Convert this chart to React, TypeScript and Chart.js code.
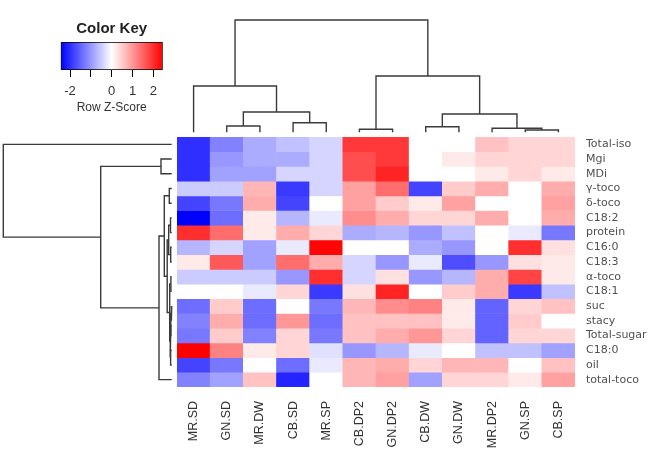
import React, { useEffect, useRef } from "react";
import { Chart, registerables } from "chart.js";
Chart.register(...registerables);

// ---------- data ----------
const columns = ["MR.SD", "GN.SD", "MR.DW", "CB.SD", "MR.SP", "CB.DP2", "GN.DP2", "CB.DW", "GN.DW", "MR.DP2", "GN.SP", "CB.SP"];
const rowLabels = ["Total-iso", "Mgi", "MDi", "γ-toco", "δ-toco", "C18:2", "protein", "C16:0", "C18:3", "α-toco", "C18:1", "suc", "stacy", "Total-sugar", "C18:0", "oil", "total-toco"];

// Row Z-scores, one array per row, in column order above
const totalIso = [-2.0, -1.2, -0.8, -0.6, -0.4, 1.9, 1.9, 0.0, 0.0, 0.6, 0.4, 0.4];
const mgi = [-2.0, -1.0, -0.8, -0.8, -0.4, 1.7, 1.9, 0.0, 0.2, 0.4, 0.4, 0.4];
const mdi = [-2.0, -0.9, -0.9, -0.4, -0.4, 1.7, 2.1, 0.0, 0.0, 0.2, 0.4, 0.2];
const gammaToco = [-0.5, -0.5, 0.7, -1.9, -0.4, 0.9, 1.4, -1.8, 0.5, 0.8, 0.0, 0.8];
const deltaToco = [-1.8, -1.3, 0.8, -1.8, 0.0, 0.9, 0.5, 0.2, 0.9, 0.0, 0.0, 0.9];
const c182 = [-2.45, -1.4, 0.2, -0.7, -0.2, 1.1, 0.8, 0.4, 0.4, 0.8, 0.0, 0.8];
const protein = [2.0, 1.4, 0.2, 0.8, 0.4, -0.8, -0.7, -1.0, -0.6, 0.0, -0.2, -1.3];
const c160 = [-0.7, -0.4, -0.9, -0.2, 2.4, 0.0, 0.0, -0.8, -1.0, 0.0, 2.0, 0.3];
const c183 = [0.2, 1.6, -0.9, 1.4, 0.8, -0.4, -1.0, -0.2, -1.7, -1.0, 0.3, 0.2];
const alphaToco = [-0.5, -0.5, -0.5, -1.0, 2.0, -0.4, 0.3, -1.0, -0.7, 0.8, 1.8, 0.2];
const c181 = [0.0, 0.0, -0.2, 0.4, -1.9, 0.3, 2.1, 0.0, 0.5, 0.8, -1.9, -0.6];
const suc = [-1.4, 0.5, -1.4, 0.0, -1.3, 0.7, 1.1, 1.2, 0.2, -1.5, 0.4, 0.6];
const stacy = [-1.2, 0.8, -1.4, 1.0, -1.4, 0.6, 0.6, 0.6, 0.2, -1.5, 0.5, 0.0];
const totalSugar = [-1.3, 0.5, -1.2, 0.4, -1.3, 0.6, 0.8, 1.0, 0.4, -1.5, 0.4, 0.4];
const c180 = [2.45, 1.2, 0.2, 0.4, -0.3, -1.0, -0.7, -0.2, 0.0, -0.6, -0.6, -0.9];
const oil = [-1.8, -1.3, 0.0, -1.4, -0.2, 0.7, 0.8, 0.4, 0.7, 0.7, 0.0, 0.6];
const totalToco = [-1.2, -0.9, 0.6, -2.1, 0.0, 0.7, 0.9, -0.9, 0.4, 0.4, 0.2, 0.9];

const zRows = [totalIso, mgi, mdi, gammaToco, deltaToco, c182, protein, c160, c183, alphaToco, c181, suc, stacy, totalSugar, c180, oil, totalToco];

// Color key
const keyMin = -2.45;
const keyMax = 2.45;
const keyTicks = [-2, -1, 0, 1, 2];
const keyTickLabels = ["-2", "", "0", "1", "2"];

// Dendrograms: [childA, childB, height]; leaves 0..n-1, merge k is n+k
const colMerges: number[][] = [
  [1, 2, 0.63],
  [3, 4, 0.96],
  [12, 13, 2.03],
  [0, 14, 4.63],
  [5, 6, 0.3],
  [7, 8, 0.56],
  [10, 11, 0.23],
  [9, 18, 0.4],
  [17, 19, 1.83],
  [16, 20, 5.63],
  [15, 21, 11.23],
];
const rowMerges: number[][] = [
  [1, 2, 1.07],
  [3, 4, 0.24],
  [5, 6, 0.12],
  [7, 8, 0.1],
  [19, 20, 0.3],
  [9, 10, 0.08],
  [11, 12, 0.05],
  [23, 13, 0.09],
  [14, 15, 0.11],
  [24, 25, 0.16],
  [22, 26, 0.2],
  [21, 27, 0.45],
  [18, 28, 0.74],
  [29, 16, 1.27],
  [17, 30, 7.1],
  [0, 31, 16.84],
];

// ---------- helpers ----------
function zColor(v: number): string {
  const t = Math.max(-1, Math.min(1, v / keyMax));
  if (t < 0) {
    const c = Math.round(255 * (1 + t));
    return `rgb(${c},${c},255)`;
  }
  const c = Math.round(255 * (1 - t));
  return `rgb(255,${c},${c})`;
}

function dendroSegments(merges: number[][], n: number) {
  const pos: number[] = [];
  const hgt: number[] = [];
  for (let i = 0; i < n; i++) {
    pos[i] = i + 0.5;
    hgt[i] = 0;
  }
  const segs: { p: number; h: number }[][] = [];
  merges.forEach(([a, b, h], k) => {
    segs.push([
      { p: pos[a], h: hgt[a] },
      { p: pos[a], h },
      { p: pos[b], h },
      { p: pos[b], h: hgt[b] },
    ]);
    pos[n + k] = (pos[a] + pos[b]) / 2;
    hgt[n + k] = h;
  });
  return segs;
}

const lineColor = "#3a3a3a";
const sans = "'Liberation Sans', Arial, sans-serif";

export default function App() {
  const heatRef = useRef<HTMLCanvasElement>(null);
  const colRef = useRef<HTMLCanvasElement>(null);
  const rowRef = useRef<HTMLCanvasElement>(null);
  const keyRef = useRef<HTMLCanvasElement>(null);

  useEffect(() => {
    const charts: Chart[] = [];

    // Heatmap
    charts.push(
      new Chart(heatRef.current!, {
        type: "bar",
        data: {
          labels: columns,
          datasets: rowLabels.map((r, i) => ({
            label: r,
            data: columns.map(() => 1),
            backgroundColor: zRows[i].map(zColor),
            borderWidth: 0,
            barPercentage: 1,
            categoryPercentage: 1,
            stack: "s",
          })),
        },
        options: {
          animation: false,
          responsive: false,
          maintainAspectRatio: false,
          layout: { padding: { left: 177, top: 137, right: 0, bottom: 0 } },
          plugins: { legend: { display: false }, tooltip: { enabled: false } },
          scales: {
            x: {
              stacked: true,
              grid: { display: false, drawTicks: false },
              border: { display: false },
              ticks: {
                minRotation: 90,
                maxRotation: 90,
                autoSkip: false,
                padding: 14,
                color: "#333",
                font: { family: sans, size: 12.5 },
              },
              afterFit: (s: any) => {
                s.height = 77;
              },
            },
            y: {
              stacked: true,
              position: "right",
              min: 0,
              max: 17,
              reverse: true,
              grid: { display: false, drawTicks: false },
              border: { display: false },
              afterBuildTicks: (s: any) => {
                s.ticks = rowLabels.map((_, i) => ({ value: i + 0.5 }));
              },
              ticks: {
                autoSkip: false,
                padding: 11,
                color: "#505050",
                font: { family: "'DejaVu Sans', sans-serif", size: 11 },
                callback: (v: any) => rowLabels[Math.floor(Number(v))],
              },
              afterFit: (s: any) => {
                s.width = 94;
              },
            },
          },
        },
      } as any)
    );

    // Column dendrogram
    const colSegs = dendroSegments(colMerges, columns.length);
    charts.push(
      new Chart(colRef.current!, {
        type: "scatter",
        data: {
          datasets: colSegs.map((seg) => ({
            data: seg.map((q) => ({ x: q.p, y: q.h })),
            showLine: true,
            pointRadius: 0,
            borderColor: lineColor,
            borderWidth: 1.4,
            clip: false,
            fill: false,
          })),
        },
        options: {
          animation: false,
          responsive: false,
          maintainAspectRatio: false,
          layout: { padding: { left: 0, right: 0, top: 20, bottom: 4.7 } },
          plugins: { legend: { display: false }, tooltip: { enabled: false } },
          scales: {
            x: { type: "linear", min: 0, max: columns.length, display: false },
            y: { type: "linear", min: 0, max: 11.23, display: false },
          },
        },
      } as any)
    );

    // Row dendrogram
    const rowSegs = dendroSegments(rowMerges, rowLabels.length);
    charts.push(
      new Chart(rowRef.current!, {
        type: "scatter",
        data: {
          datasets: rowSegs.map((seg) => ({
            data: seg.map((q) => ({ x: q.h, y: q.p })),
            showLine: true,
            pointRadius: 0,
            borderColor: lineColor,
            borderWidth: 1.4,
            clip: false,
            fill: false,
          })),
        },
        options: {
          animation: false,
          responsive: false,
          maintainAspectRatio: false,
          layout: { padding: { left: 3.3, right: 5.3, top: 0, bottom: 0 } },
          plugins: { legend: { display: false }, tooltip: { enabled: false } },
          scales: {
            x: { type: "linear", min: 0, max: 16.84, reverse: true, display: false },
            y: { type: "linear", min: 0, max: rowLabels.length, reverse: true, display: false },
          },
        },
      } as any)
    );

    // Color key
    charts.push(
      new Chart(keyRef.current!, {
        type: "bar",
        data: {
          labels: [""],
          datasets: [
            {
              data: [[keyMin, keyMax]],
              backgroundColor: (ctx: any) => {
                const { chart } = ctx;
                const area = chart.chartArea;
                if (!area) return "#fff";
                const g = chart.ctx.createLinearGradient(area.left, 0, area.right, 0);
                g.addColorStop(0, zColor(keyMin));
                g.addColorStop(0.5, zColor(0));
                g.addColorStop(1, zColor(keyMax));
                return g;
              },
              borderColor: "#000",
              borderWidth: 1,
              borderSkipped: false,
              barPercentage: 1,
              categoryPercentage: 1,
            },
          ],
        },
        options: {
          indexAxis: "y",
          animation: false,
          responsive: false,
          maintainAspectRatio: false,
          layout: { padding: { left: 20.7, right: 17.3, top: 0, bottom: 0 } },
          plugins: {
            legend: { display: false },
            tooltip: { enabled: false },
            title: {
              display: true,
              text: "Color Key",
              color: "#222",
              font: { family: sans, size: 15, weight: "bold" },
              padding: { top: 5, bottom: 4 },
            },
          },
          scales: {
            y: { display: false },
            x: {
              type: "linear",
              min: keyMin,
              max: keyMax,
              afterBuildTicks: (s: any) => {
                s.ticks = keyTicks.map((v) => ({ value: v }));
              },
              grid: { drawOnChartArea: false, drawTicks: true, tickLength: 7, color: "#000", lineWidth: 1 },
              border: { display: false },
              ticks: {
                padding: 7,
                color: "#333",
                font: { family: sans, size: 13 },
                callback: (v: any) => keyTickLabels[keyTicks.indexOf(Number(v))],
              },
              title: {
                display: true,
                text: "Row Z-Score",
                color: "#333",
                padding: 0,
                font: { family: sans, size: 12 },
              },
              afterFit: (s: any) => {
                s.height = 45;
              },
            },
          },
        },
      } as any)
    );

    return () => charts.forEach((c) => c.destroy());
  }, []);

  return (
    <div style={{ position: "absolute", left: 0, top: 0, width: 669, height: 464, background: "#fff", overflow: "hidden" }}>
      <canvas ref={heatRef} width={669} height={464} style={{ position: "absolute", left: 0, top: 0 }} />
      <canvas ref={colRef} width={398} height={137} style={{ position: "absolute", left: 177, top: 0 }} />
      <canvas ref={rowRef} width={177} height={250} style={{ position: "absolute", left: 0, top: 137 }} />
      <canvas ref={keyRef} width={140} height={100} style={{ position: "absolute", left: 40, top: 15 }} />
    </div>
  );
}
